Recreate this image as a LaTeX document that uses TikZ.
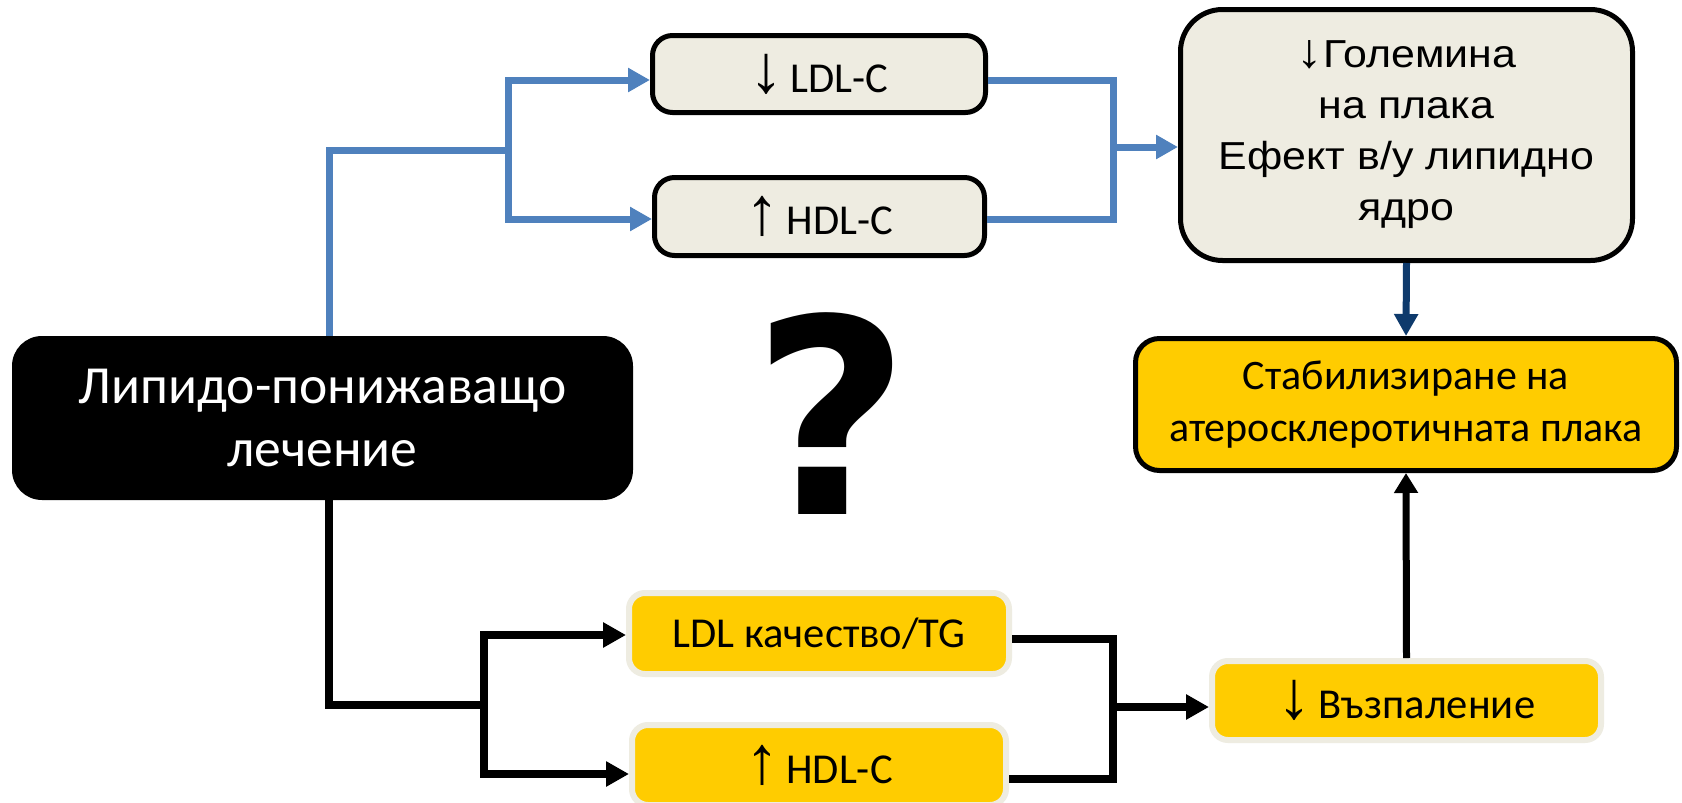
\documentclass[tikz,border=0pt]{standalone}
\usepackage{fontspec}
\setmainfont{Carlito}
\newfontfamily\arialf{Liberation Sans}
\newfontfamily\arialw[FakeStretch=1.1]{Liberation Sans}
\newfontfamily\qfont{DejaVu Sans}
\usetikzlibrary{arrows.meta}
\definecolor{beige}{HTML}{EEECE1}
\definecolor{gold}{HTML}{FFCC00}
\definecolor{lblue}{HTML}{4F81BD}
\definecolor{dblue}{HTML}{0E3A6C}
\newcommand{\ua}{{\arialf\fontsize{34}{34}\selectfont ↑}}
\newcommand{\da}{{\arialf\fontsize{34}{34}\selectfont ↓}}
\tikzset{
  greybox/.style={draw=black, line width=2.5pt, fill=beige, rounded corners=10pt, inner sep=0pt, align=center},
  goldbox/.style={draw=beige, line width=3pt, fill=gold, rounded corners=8pt, inner sep=0pt, align=center},
  smallfont/.style={font=\fontsize{21.3}{26}\selectfont},
  blueline/.style={draw=lblue, line width=3.5pt},
  bluearrow/.style={blueline, -{Triangle[length=11pt,width=11.5pt]}},
  blackline/.style={draw=black, line width=3.8pt},
  blackarrow/.style={blackline, -{Triangle[length=11.5pt,width=12pt]}},
}
\begin{document}
\begin{tikzpicture}[x=0.5pt,y=-0.5pt]
\fill[white] (0,0) rectangle (1682,803);
\useasboundingbox (0,0) rectangle (1682,803);

% nodes
\node[fill=black, rounded corners=15pt, minimum width=310.5pt, minimum height=82pt, inner sep=0pt,
      align=center, text=white, font=\fontsize{26.8}{31.5}\selectfont] (main) at (322.5,418)
      {Липидо-понижаващо\\лечение};

\node[greybox, smallfont, minimum width=166.5pt, minimum height=38.5pt] (ldl1) at (819,74) {\da\,LDL-C};
\node[greybox, smallfont, minimum width=165pt, minimum height=39pt] (hdl1) at (819.5,216.5) {\ua\,HDL-C};

\node[greybox, rounded corners=21pt, minimum width=226pt, minimum height=125.5pt,
      font=\arialw\fontsize{19.5}{25.5}\selectfont] (big) at (1406.5,135)
      {{\fontsize{24}{24}\selectfont ↓}Големина\\на плака\\Ефект в/у липидно\\ядро};

\node[draw=black, line width=2.5pt, fill=gold, rounded corners=12pt, inner sep=0pt, align=center,
      minimum width=270.5pt, minimum height=66pt, font=\fontsize{21}{26.3}\selectfont] (stab) at (1406,404.5)
      {Стабилизиране на\\атеросклеротичната плака};

\node[goldbox, smallfont, minimum width=190pt, minimum height=40.5pt] (ldlq) at (819,633.5) {LDL качество/TG};
\node[goldbox, smallfont, minimum width=187pt, minimum height=40pt] (hdl2) at (819,765) {\ua\,HDL-C};
\node[goldbox, smallfont, minimum width=194.5pt, minimum height=39.5pt] (infl) at (1406.5,700.5) {\da\,Възпаление};

\node[font=\qfont\bfseries\fontsize{136}{136}\selectfont, inner sep=0pt] (q) at (831,414) {?};

% junctions
\coordinate (bj1) at (508,150);
\coordinate (bj2) at (1113,147);
\coordinate (kj1) at (484,705);
\coordinate (kj2) at (1113,707);

% blue connectors
\draw[blueline] ([xshift=3.25pt]main.north) |- (bj1);
\draw[bluearrow] (bj1) |- ([yshift=-3pt]ldl1.west);
\draw[bluearrow] (bj1) |- ([yshift=-1.25pt]hdl1.west);
\draw[blueline] ([yshift=-3pt]ldl1.east) -| (bj2);
\draw[blueline] ([yshift=-1.25pt]hdl1.east) -| (bj2);
\draw[bluearrow] (bj2) -- (bj2 -| big.west);

\draw[draw=dblue, line width=3.5pt, -{Triangle[length=11pt,width=11.5pt]}] (big.south) -- (stab.north);

% black connectors
\draw[blackline] ([xshift=3.25pt]main.south) |- (kj1);
\draw[blackarrow] (kj1) |- ([yshift=-0.75pt]ldlq.west);
\draw[blackarrow] (kj1) |- ([yshift=-4.5pt]hdl2.west);
\draw[blackline] ([yshift=-2.75pt]ldlq.east) -| (kj2);
\draw[blackline] ([yshift=-7pt]hdl2.east) -| (kj2);
\draw[blackarrow] (kj2) -- (kj2 -| infl.west);

\draw[draw=black, line width=3.5pt, -{Triangle[length=10pt,width=11.5pt]}] (infl.north) -- (stab.south);
\end{tikzpicture}
\end{document}
